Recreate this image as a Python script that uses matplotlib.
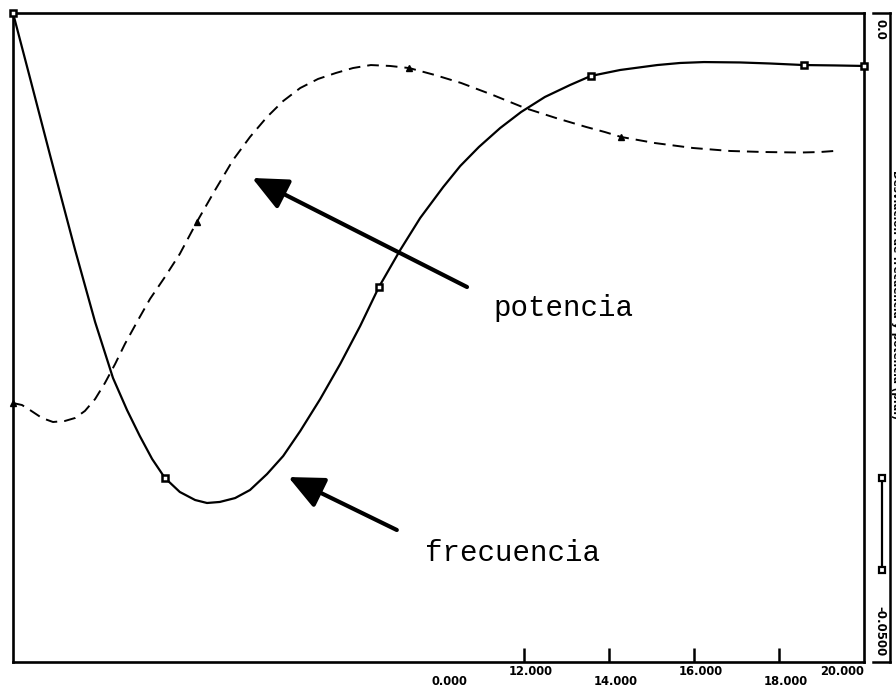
import matplotlib
matplotlib.use("Agg")
import matplotlib.pyplot as plt
from matplotlib.lines import Line2D

# respuesta ante un escalon de carga: desviacion de frecuencia y de potencia
freq_x = [0.00, 0.40, 0.87, 1.46, 1.93, 2.35, 2.68, 2.98, 3.27, 3.57, 3.92, 4.28,
          4.56, 4.86, 5.22, 5.57, 5.97, 6.35, 6.75, 7.22, 7.69, 8.16, 8.60, 9.10,
          9.57, 10.11, 10.51, 10.95, 11.45, 11.94, 12.50, 13.09, 13.58, 14.27, 15.14,
          15.68, 16.24, 17.09, 17.79, 18.59, 19.32, 20.00]
freq_y = [0.0, -0.00501, -0.01094, -0.01826, -0.02381, -0.02812, -0.03059, -0.03259,
          -0.03436, -0.03582, -0.03690, -0.03752, -0.03775, -0.03767, -0.03737, -0.03675,
          -0.03552, -0.03413, -0.03221, -0.02974, -0.02704, -0.02411, -0.02111, -0.01826,
          -0.01579, -0.01341, -0.01179, -0.01032, -0.00886, -0.00763, -0.00647, -0.00555,
          -0.00485, -0.00439, -0.00401, -0.00385, -0.00378, -0.00381, -0.00389, -0.00401,
          -0.00404, -0.00408]
freq_marks = [0, 9, 22, 32, 39, 41]

pot_x = [0.00, 0.21, 0.40, 0.68, 0.94, 1.22, 1.46, 1.69, 1.93, 2.16, 2.40, 2.63,
         2.94, 3.22, 3.57, 3.92, 4.32, 4.75, 5.17, 5.57, 5.97, 6.35, 6.75, 7.17,
         7.59, 7.99, 8.41, 8.86, 9.31, 9.92, 10.53, 11.28, 12.03, 12.76, 13.47, 13.91,
         14.29, 15.09, 15.98, 16.85, 17.65, 18.50, 18.97, 19.30]
pot_y = [-0.03005, -0.03020, -0.03059, -0.03120, -0.03151, -0.03143, -0.03120, -0.03066,
         -0.02974, -0.02851, -0.02704, -0.02550, -0.02365, -0.02203, -0.02034, -0.01856,
         -0.01610, -0.01364, -0.01133, -0.00955, -0.00801, -0.00678, -0.00578, -0.00508,
         -0.00462, -0.00424, -0.00401, -0.00408, -0.00424, -0.00478, -0.00539, -0.00632,
         -0.00732, -0.00809, -0.00878, -0.00917, -0.00955, -0.01002, -0.01040, -0.01063,
         -0.01071, -0.01075, -0.01071, -0.01063]
pot_marks = [0, 16, 28, 36]

xticks = [12, 14, 16, 18]
xlabels_top = {12: "12.000", 16: "16.000", 20: "20.000"}
xlabels_bottom = {10.25: "0.000", 14: "14.000", 18: "18.000"}
ylabels = {0.0: "0.0", -0.05: "-0.0500"}

W, H = 896, 687


def fx(x):
    return x / W


def fy(y):
    return 1 - y / H


fig = plt.figure(figsize=(W / 100, H / 100), dpi=100)
ax = fig.add_axes([fx(13), fy(662), (864 - 13) / W, (662 - 13) / H])
ax.set_xlim(0, 20)
ax.set_ylim(-0.05, 0.0)

ax.plot(freq_x, freq_y, color="black", lw=1.6, marker="s", ms=4.5, mfc="white",
        mec="black", mew=1.8, markevery=freq_marks, clip_on=False, zorder=3,
        solid_joinstyle="round")
ax.plot(pot_x, pot_y, color="black", lw=1.4, linestyle=(0, (6, 3.6)), marker="^",
        ms=4.5, mfc="black", mec="black", markevery=pot_marks, clip_on=False, zorder=3)

# flechas y rotulos de cada curva
arrow = dict(arrowstyle="-|>,head_length=1.2,head_width=0.55", lw=3, color="black",
             shrinkA=0, shrinkB=0, mutation_scale=18)
ax.annotate("", xy=(5.62, -0.01271), xytext=(10.67, -0.02111), arrowprops=arrow)
ax.annotate("", xy=(6.47, -0.03575), xytext=(9.02, -0.03983), arrowprops=arrow)
ax.text(11.30, -0.02273, "potencia", family="Liberation Mono", fontsize=21,
        ha="left", va="center")
ax.text(9.68, -0.04160, "frecuencia", family="Liberation Mono", fontsize=21,
        ha="left", va="center")

for s in ax.spines.values():
    s.set_linewidth(1.9)
ax.set_yticks([])
ax.set_xticks(xticks)
ax.tick_params(axis="x", direction="in", length=10, width=1.8, labelbottom=False)

lab = dict(fontsize=8.3, fontweight="bold", family="DejaVu Sans",
           transform=ax.get_xaxis_transform())
for v, t in xlabels_top.items():
    if v == 20:
        ax.text(v, -0.0139, t, ha="right", va="center", **lab)
    else:
        ax.text(v + 0.17, -0.0139, t, ha="center", va="center", **lab)
for v, t in xlabels_bottom.items():
    ax.text(v + 0.17 if v != 10.25 else v, -0.0300, t, ha="center", va="center", **lab)

# eje de la derecha
for (x0, y0), (x1, y1) in [((873, 13), (890, 13)), ((890, 13), (890, 662)),
                           ((873, 662), (890, 662))]:
    fig.add_artist(Line2D([fx(x0), fx(x1)], [fy(y0), fy(y1)], color="black", lw=1.8))
fig.add_artist(Line2D([fx(882), fx(882)], [fy(478), fy(570)], color="black", lw=1.6,
                      marker="s", ms=4.5, mfc="white", mec="black", mew=1.6))
for v, t in ylabels.items():
    py = 13 + (0 - v) / 0.05 * (662 - 13)
    if v == 0.0:
        fig.text(fx(880), fy(py + 6), t, rotation=270, ha="center", va="top",
                 fontsize=8.5, fontweight="bold")
    else:
        fig.text(fx(880), fy(py - 6), t, rotation=270, ha="center", va="bottom",
                 fontsize=8.5, fontweight="bold")
fig.text(fx(896), fy(170), "Desviacion de frecuencia y potencia (p.u.)", rotation=270,
         ha="center", va="top", fontsize=7.5, fontweight="bold")

fig.savefig("out.png", dpi=100)
